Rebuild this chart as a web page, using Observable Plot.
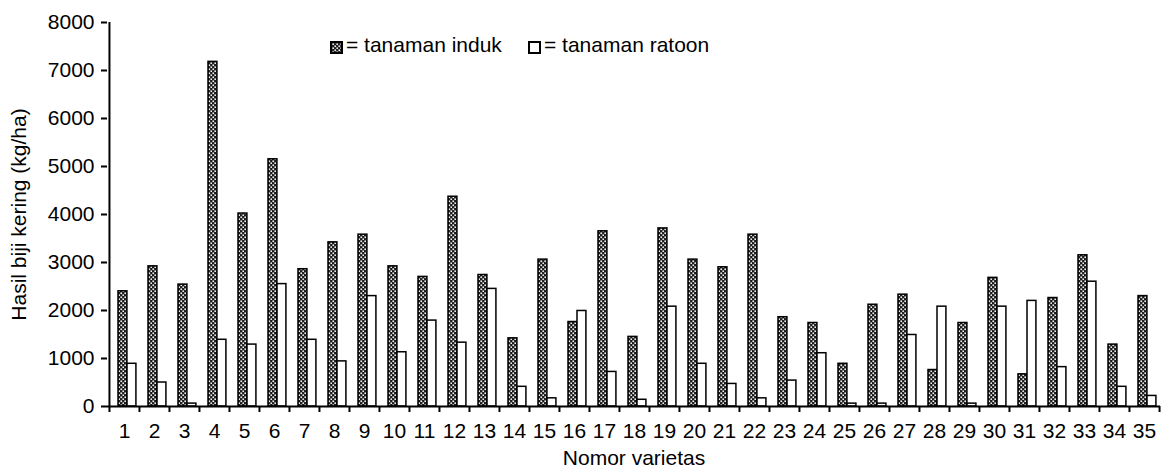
<!DOCTYPE html>
<html><head><meta charset="utf-8">
<script src="https://cdn.jsdelivr.net/npm/d3@7"></script>
<script src="https://cdn.jsdelivr.net/npm/@observablehq/plot@0.6"></script>
<style>
body{margin:0;background:#fff;}
#wrap{position:relative;width:1161px;height:470px;font-family:"Liberation Sans",Arial,sans-serif;color:#000;}
.leg{position:absolute;top:33px;font-size:21px;line-height:24px;white-space:nowrap;}
.leg svg{position:absolute;left:0;top:8px;}
.leg span{position:absolute;left:16px;top:0;}
</style></head><body>
<svg width="0" height="0" style="position:absolute"><defs>
<pattern id="chk" width="4" height="4" patternUnits="userSpaceOnUse">
<rect width="4" height="4" fill="#1a1a1a"/>
<rect x="0.4" y="0.4" width="1.7" height="1.7" fill="#eeeeee"/>
<rect x="2.4" y="2.4" width="1.7" height="1.7" fill="#eeeeee"/>
</pattern></defs></svg>
<div id="wrap"></div>
<script>
const varieties = ["1","2","3","4","5","6","7","8","9","10","11","12","13","14","15","16","17","18","19","20","21","22","23","24","25","26","27","28","29","30","31","32","33","34","35"];
const induk = [2400,2920,2540,7180,4020,5150,2860,3420,3580,2920,2700,4370,2740,1420,3060,1760,3650,1450,3710,3060,2900,3580,1860,1740,890,2120,2330,760,1740,2680,670,2260,3150,1290,2300];
const ratoon = [890,500,60,1390,1290,2550,1390,940,2300,1130,1790,1330,2450,410,170,1990,720,140,2080,890,470,170,540,1110,60,60,1490,2080,60,2080,2200,820,2600,410,220];
const seriesNames = ["tanaman induk","tanaman ratoon"];
const yTicks = [0,1000,2000,3000,4000,5000,6000,7000,8000];
const yLabel = "Hasil biji kering (kg/ha)";
const xLabel = "Nomor varietas";

const indukRows = varieties.map((v,i)=>({variety:v, series:seriesNames[0], value:induk[i]}));
const ratoonRows = varieties.map((v,i)=>({variety:v, series:seriesNames[1], value:ratoon[i]}));

const W = 1161, ML = 107, MR = 1;
const bw = (W - ML - MR) / varieties.length;

const chart = Plot.plot({
  width: W, height: 470,
  marginLeft: ML, marginRight: MR, marginTop: 22, marginBottom: 64,
  style: {fontFamily: "'Liberation Sans', Arial, sans-serif", fontSize: "21px", color: "#000", background: "#fff"},
  x: {domain: varieties, paddingInner: 0, paddingOuter: 0},
  y: {domain: [0, 8000]},
  marks: [
    Plot.barY(indukRows, {x: "variety", y: "value", fill: "url(#chk)", stroke: "#000", strokeWidth: 1.5, insetLeft: 9, insetRight: bw - 18}),
    Plot.barY(ratoonRows, {x: "variety", y: "value", fill: "#fff", stroke: "#000", strokeWidth: 1.5, insetLeft: 18, insetRight: bw - 27}),
    Plot.ruleY([0], {stroke: "#000", strokeWidth: 2}),
    Plot.ruleX([varieties[0]], {dx: -bw/2, stroke: "#000", strokeWidth: 2}),
    Plot.axisY({ticks: yTicks, tickFormat: d => String(d), tickSize: 6, tickPadding: 7, strokeWidth: 2, label: yLabel, labelAnchor: "center", labelArrow: "none", labelOffset: 96}),
    Plot.axisX({tickSize: 0, tickPadding: 17, label: xLabel, labelAnchor: "center", labelArrow: "none", labelOffset: 58}),
    Plot.axisX({tickSize: 6, dx: -bw/2, strokeWidth: 2, tickFormat: () => "", label: null}),
    Plot.axisX({ticks: [varieties[varieties.length-1]], tickSize: 6, dx: bw/2, strokeWidth: 2, tickFormat: () => "", label: null})
  ]
});
const wrap = document.getElementById("wrap");
wrap.appendChild(chart);

const legendItems = [
  {name: seriesNames[0], fill: "url(#chk)", left: 330},
  {name: seriesNames[1], fill: "#fff", left: 528}
];
for (const it of legendItems) {
  const d = document.createElement("div");
  d.className = "leg";
  d.style.left = it.left + "px";
  d.innerHTML = `<svg width="13" height="13"><rect x="1" y="1" width="11" height="11" fill="${it.fill}" stroke="#000" stroke-width="2"/></svg><span>= ${it.name}</span>`;
  wrap.appendChild(d);
}
</script>
</body></html>
